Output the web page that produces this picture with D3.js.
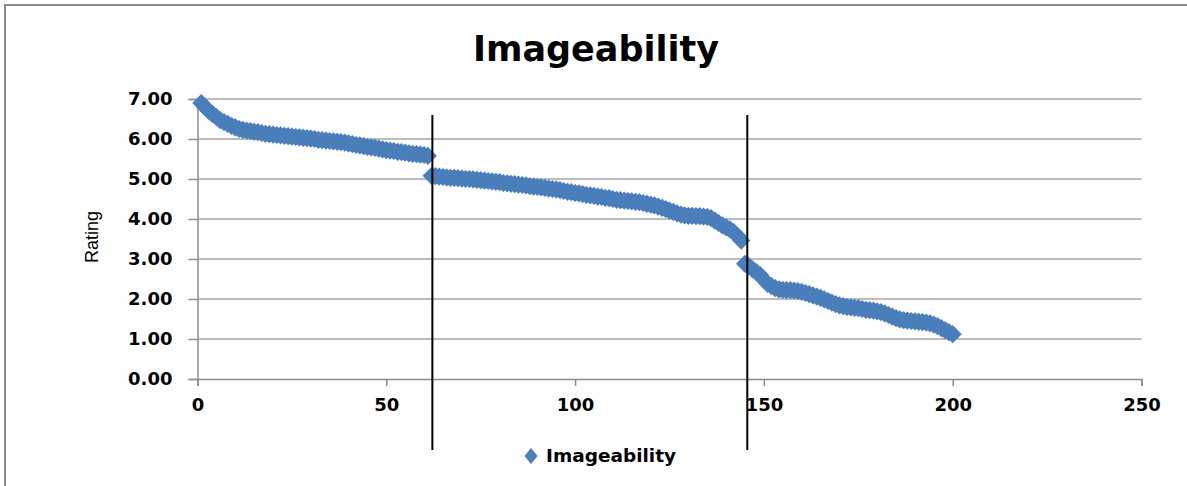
<!DOCTYPE html>
<html>
<head>
<meta charset="utf-8">
<script src="https://cdn.jsdelivr.net/npm/d3@7"></script>
<style>
  body { margin: 0; background: #fff; }
  svg { display: block; }
</style>
</head>
<body>
<svg id="chart" width="1187" height="486"></svg>
<script>
// Imageability ratings, sorted from highest to lowest (items 1..200)
const ratingsHigh = [
  6.90, 6.80, 6.70, 6.62, 6.55, 6.47, 6.42, 6.38, 6.33, 6.29,
  6.25, 6.23, 6.21, 6.20, 6.18, 6.17, 6.15, 6.13, 6.12, 6.11,
  6.10, 6.09, 6.08, 6.07, 6.06, 6.05, 6.04, 6.03, 6.02, 6.01,
  6.00, 5.98, 5.97, 5.96, 5.95, 5.94, 5.93, 5.92, 5.91, 5.89,
  5.87, 5.85, 5.84, 5.82, 5.80, 5.79, 5.78, 5.76, 5.74, 5.72,
  5.71, 5.70, 5.68, 5.67, 5.66, 5.64, 5.63, 5.62, 5.61, 5.60,
  5.58
];
const ratingsMid = [
  5.08, 5.07, 5.06, 5.05, 5.04, 5.03, 5.03, 5.02, 5.01, 5.00,
  5.00, 4.99, 4.98, 4.97, 4.96, 4.95, 4.94, 4.93, 4.92, 4.90,
  4.89, 4.88, 4.87, 4.86, 4.85, 4.84, 4.82, 4.81, 4.80, 4.79,
  4.78, 4.76, 4.75, 4.74, 4.72, 4.70, 4.68, 4.67, 4.65, 4.64,
  4.62, 4.60, 4.59, 4.58, 4.56, 4.55, 4.53, 4.52, 4.50, 4.48,
  4.47, 4.46, 4.45, 4.44, 4.43, 4.42, 4.40, 4.38, 4.36, 4.34,
  4.31, 4.28, 4.25, 4.21, 4.18, 4.14, 4.11, 4.09, 4.08, 4.08,
  4.07, 4.07, 4.06, 4.05, 4.02, 3.96, 3.90, 3.84, 3.79, 3.74,
  3.67, 3.58, 3.46
];
const ratingsLow = [
  2.88, 2.82, 2.74, 2.67, 2.60, 2.48, 2.38, 2.32, 2.27, 2.24,
  2.23, 2.22, 2.22, 2.21, 2.20, 2.18, 2.15, 2.12, 2.09, 2.06,
  2.03, 1.99, 1.95, 1.91, 1.87, 1.84, 1.82, 1.80, 1.79, 1.78,
  1.77, 1.75, 1.73, 1.72, 1.71, 1.69, 1.67, 1.64, 1.60, 1.56,
  1.52, 1.49, 1.47, 1.46, 1.45, 1.44, 1.43, 1.42, 1.41, 1.39,
  1.36, 1.32, 1.27, 1.22, 1.17, 1.12
];
// Boundaries between the high / medium / low groups (item number)
const groupDividers = [62.2, 145.6];

const xTicks = [0, 50, 100, 150, 200, 250];
const yTicks = [0, 1, 2, 3, 4, 5, 6, 7];
const seriesName = "Imageability";
const chartTitle = "Imageability";
const yTitle = "Rating";

const ratings = ratingsHigh.concat(ratingsMid, ratingsLow);
const points = ratings.map((v, i) => ({ item: i + 1, rating: v }));

const svg = d3.select("#chart");
const W = 1187, H = 486;
const fontFamily = "'DejaVu Sans', Verdana, sans-serif";
const blue = "#4a7ebb";
const gridColor = "#a6a6a6";
const axisColor = "#8c8c8c";

// chart frame
svg.append("rect")
  .attr("x", 5).attr("y", 5)
  .attr("width", W + 10).attr("height", H + 10)
  .attr("fill", "#fff")
  .attr("stroke", "#8a8a8a")
  .attr("stroke-width", 2);

const x = d3.scaleLinear().domain([0, 250]).range([197.5, 1141.5]);
const y = d3.scaleLinear().domain([0, 7]).range([379, 99]);

// horizontal gridlines
svg.append("g")
  .selectAll("line")
  .data(yTicks.filter(t => t > 0))
  .join("line")
  .attr("x1", x(0)).attr("x2", x(250))
  .attr("y1", d => y(d)).attr("y2", d => y(d))
  .attr("stroke", gridColor)
  .attr("stroke-width", 1.5);

// y axis
const yAxis = svg.append("g")
  .attr("transform", `translate(${x(0)},0)`)
  .call(d3.axisLeft(y).tickValues(yTicks).tickFormat(d3.format(".2f")).tickSize(9).tickPadding(16));
yAxis.select(".domain").attr("stroke", axisColor).attr("stroke-width", 1.5);
yAxis.selectAll(".tick line").attr("stroke", axisColor).attr("stroke-width", 1.5);
yAxis.selectAll("text")
  .attr("font-family", fontFamily)
  .attr("font-weight", "bold")
  .attr("font-size", 18)
  .attr("fill", "#000");

// x axis
const xAxis = svg.append("g")
  .attr("transform", `translate(0,${y(0)})`)
  .call(d3.axisBottom(x).tickValues(xTicks).tickFormat(d3.format("d")).tickSize(7).tickPadding(12));
xAxis.select(".domain").attr("stroke", axisColor).attr("stroke-width", 1.5);
xAxis.selectAll(".tick line").attr("stroke", axisColor).attr("stroke-width", 1.5);
xAxis.selectAll("text")
  .attr("font-family", fontFamily)
  .attr("font-weight", "bold")
  .attr("font-size", 18)
  .attr("fill", "#000");

// diamond markers
const diamond = d3.symbol().type(d3.symbolSquare).size(165);
svg.append("g")
  .selectAll("path")
  .data(points)
  .join("path")
  .attr("d", diamond)
  .attr("transform", d => `translate(${x(d.item)},${y(d.rating)}) rotate(45)`)
  .attr("fill", blue);

// group dividers
svg.append("g")
  .selectAll("line")
  .data(groupDividers)
  .join("line")
  .attr("x1", d => x(d)).attr("x2", d => x(d))
  .attr("y1", 115).attr("y2", 450)
  .attr("stroke", "#000")
  .attr("stroke-width", 2);

// title
svg.append("text")
  .attr("x", 596).attr("y", 61)
  .attr("text-anchor", "middle")
  .attr("font-family", fontFamily)
  .attr("font-weight", "bold")
  .attr("font-size", 35)
  .attr("fill", "#000")
  .text(chartTitle);

// y axis title
svg.append("text")
  .attr("transform", "translate(98,237) rotate(-90)")
  .attr("text-anchor", "middle")
  .attr("font-family", "'Liberation Sans', Arial, sans-serif")
  .attr("font-size", 18)
  .attr("fill", "#000")
  .text(yTitle);

// legend
const legend = svg.append("g").attr("transform", "translate(531,456)");
legend.append("path")
  .attr("d", "M0,-8 L6.5,0 L0,8 L-6.5,0 Z")
  .attr("fill", blue);
legend.append("text")
  .attr("x", 15).attr("y", 0)
  .attr("dy", "0.35em")
  .attr("font-family", fontFamily)
  .attr("font-weight", "bold")
  .attr("font-size", 18.5)
  .attr("fill", "#000")
  .text(seriesName);
</script>
</body>
</html>
